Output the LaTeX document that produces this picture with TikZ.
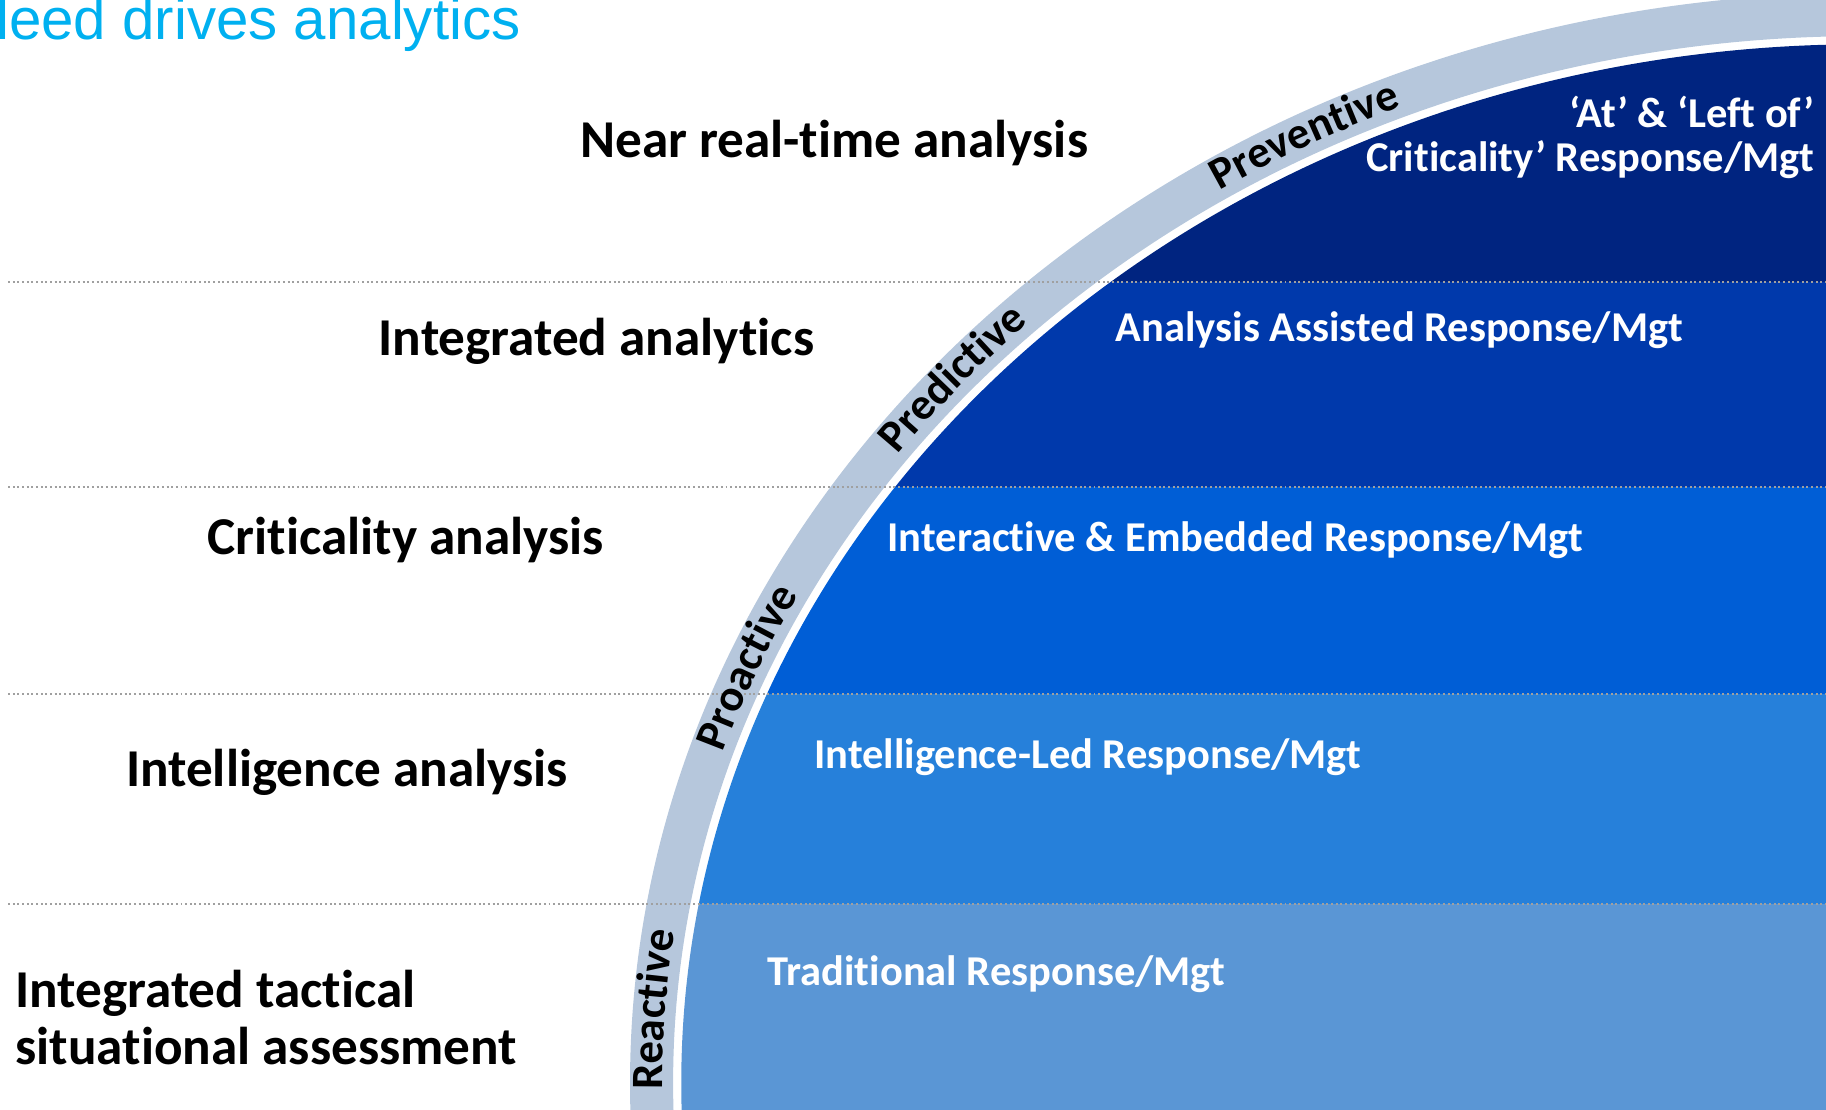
\documentclass[tikz,border=0pt]{standalone}
\usepackage{fontspec}
\setmainfont{Carlito}[Ligatures={NoCommon}]
\newfontfamily\titlefont{Liberation Sans}
\usetikzlibrary{decorations.text}
\definecolor{bandA}{HTML}{002480}
\definecolor{bandB}{HTML}{0039AB}
\definecolor{bandC}{HTML}{005ED6}
\definecolor{bandD}{HTML}{2680DA}
\definecolor{bandE}{HTML}{5A96D5}
\definecolor{ringgrey}{HTML}{B6C7DC}
\definecolor{dotgrey}{HTML}{A0A0A0}
\definecolor{titlecyan}{HTML}{00B0F0}
\newcommand\arcfont{\fontsize{38.5}{41}\selectfont\bfseries}
\begin{document}
\begin{tikzpicture}[x=1pt,y=1pt,
  leftlbl/.style={anchor=base west, inner sep=0pt, font=\fontsize{45.7}{49}\selectfont\bfseries, text=black},
  rightlbl/.style={anchor=base west, inner sep=0pt, font=\fontsize{36.5}{38}\selectfont\bfseries, text=white},
  sepline/.style={draw=dotgrey, line width=1.7pt, dash pattern=on 1.7pt off 2.3pt},
  arctext/.style={decorate, decoration={text along path, text align=center, text={|\arcfont|#1}}}
]
\useasboundingbox (0,0) rectangle (1568,953);
\clip (0,0) rectangle (1568,953);
\coordinate (c) at (1600,23);
% grey ring
\fill[ringgrey, even odd rule] (c) ellipse [x radius=1059, y radius=936] (c) ellipse [x radius=1022, y radius=899];
% blue bands
\begin{scope}
  \clip (c) ellipse [x radius=1015, y radius=892];
  \fill[bandE] (0,0) rectangle (1568,177);
  \fill[bandD] (0,177) rectangle (1568,357);
  \fill[bandC] (0,357) rectangle (1568,535);
  \fill[bandB] (0,535) rectangle (1568,711);
  \fill[bandA] (0,711) rectangle (1568,953);
\end{scope}
% dotted separators
\coordinate (l1) at (7,711); \coordinate (r1) at (1568,711);
\coordinate (l2) at (7,535); \coordinate (r2) at (1568,535);
\coordinate (l3) at (7,357); \coordinate (r3) at (1568,357);
\coordinate (l4) at (7,177); \coordinate (r4) at (1568,177);
\draw[sepline] (l1) -- (r1);
\draw[sepline] (l2) -- (r2);
\draw[sepline] (l3) -- (r3);
\draw[sepline] (l4) -- (r4);
% text along the arc
\begin{scope}[shift={(c)}]
  \path[arctext=Preventive] (132.7:1031 and 908) arc[start angle=132.7, end angle=102.7, x radius=1031, y radius=908];
  \path[arctext=Predictive] (154.0:1031 and 908) arc[start angle=154.0, end angle=124.0, x radius=1031, y radius=908];
  \path[arctext=Proactive] (172.3:1031 and 908) arc[start angle=172.3, end angle=142.3, x radius=1031, y radius=908];
  \path[arctext=Reactive] (191.1:1031 and 908) arc[start angle=191.1, end angle=161.1, x radius=1031, y radius=908];
\end{scope}
% title
\node[anchor=base west, inner sep=0pt, font=\titlefont\fontsize{50}{60}\selectfont, text=titlecyan] (title) at (-3.4,919) {leed drives analytics};
% left labels
\node[leftlbl] (near) at (498,817.5) {Near real-time analysis};
\node[leftlbl] (integ) at (325,647.5) {Integrated analytics};
\node[leftlbl] (crit) at (178,476.5) {Criticality analysis};
\node[leftlbl] (intel) at (108,277.5) {Intelligence analysis};
\node[leftlbl] (tact1) at (13,87.5) {Integrated tactical};
\node[leftlbl] (tact2) at (13,38.5) {situational assessment};
% right labels
\node[rightlbl, anchor=base east] (atl1) at (1558,843.4) {‘At’ \& ‘Left of’};
\node[rightlbl, anchor=base east] (atl2) at (1558,805.4) {Criticality’ Response/Mgt};
\node[rightlbl] (aar) at (958,659.4) {Analysis Assisted Response/Mgt};
\node[rightlbl] (ier) at (762,479.4) {Interactive \& Embedded Response/Mgt};
\node[rightlbl] (ilr) at (699,293.4) {Intelligence-Led Response/Mgt};
\node[rightlbl] (trr) at (659,106.4) {Traditional Response/Mgt};
\end{tikzpicture}
\end{document}
